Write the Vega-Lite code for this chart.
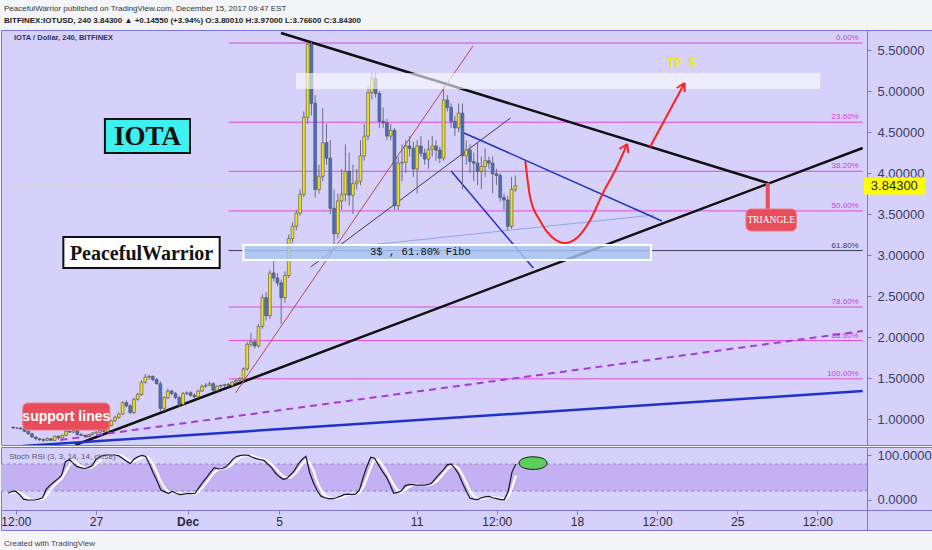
{
  "$schema": "https://vega.github.io/schema/vega-lite/v6.json",
  "background": "#f3f5f8",
  "padding": {"left": 0, "right": 0, "top": 4, "bottom": 4},
  "autosize": {"type": "pad"},
  "spacing": 0,
  "title": {
    "text": "Created with TradingView",
    "orient": "bottom", "anchor": "start", "frame": "bounds", "dx": 4, "offset": 9,
    "font": "Liberation Sans", "fontSize": 8, "fontWeight": "normal", "color": "#444444"
  },
  "config": {
    "view": {"fill": "#d5d1fa", "stroke": "#7b74da", "strokeWidth": 1},
    "axis": {"grid": false, "labelFont": "Liberation Sans", "titleFont": "Liberation Sans", "domainColor": "#7b74da", "tickColor": "#7b74da"},
    "font": "Liberation Sans"
  },
  "resolve": {"scale": {"x": "independent", "y": "independent"}},
  "datasets": {
    "bars": [
      {"t":"2017-11-23T04:00","o":0.90,"h":0.91,"l":0.88,"c":0.89,"k":15,"d":15},
      {"t":"2017-11-23T08:00","o":0.89,"h":0.90,"l":0.88,"c":0.89,"k":19,"d":17},
      {"t":"2017-11-23T12:00","o":0.89,"h":0.90,"l":0.87,"c":0.88,"k":19,"d":18},
      {"t":"2017-11-23T16:00","o":0.88,"h":0.89,"l":0.84,"c":0.85,"k":12,"d":17},
      {"t":"2017-11-23T20:00","o":0.85,"h":0.86,"l":0.81,"c":0.82,"k":2,"d":11},
      {"t":"2017-11-24T00:00","o":0.82,"h":0.83,"l":0.77,"c":0.78,"k":0,"d":5},
      {"t":"2017-11-24T04:00","o":0.78,"h":0.79,"l":0.74,"c":0.76,"k":0,"d":1},
      {"t":"2017-11-24T08:00","o":0.76,"h":0.77,"l":0.73,"c":0.75,"k":0,"d":0},
      {"t":"2017-11-24T12:00","o":0.75,"h":0.76,"l":0.72,"c":0.74,"k":2,"d":1},
      {"t":"2017-11-24T16:00","o":0.74,"h":0.78,"l":0.73,"c":0.76,"k":5,"d":2},
      {"t":"2017-11-24T20:00","o":0.76,"h":0.77,"l":0.73,"c":0.74,"k":24,"d":10},
      {"t":"2017-11-25T00:00","o":0.74,"h":0.80,"l":0.73,"c":0.79,"k":33,"d":21},
      {"t":"2017-11-25T04:00","o":0.79,"h":0.80,"l":0.75,"c":0.77,"k":40,"d":32},
      {"t":"2017-11-25T08:00","o":0.77,"h":0.81,"l":0.76,"c":0.80,"k":47,"d":40},
      {"t":"2017-11-25T12:00","o":0.80,"h":0.87,"l":0.79,"c":0.85,"k":55,"d":47},
      {"t":"2017-11-25T16:00","o":0.85,"h":0.86,"l":0.83,"c":0.84,"k":85,"d":62},
      {"t":"2017-11-25T20:00","o":0.84,"h":0.87,"l":0.83,"c":0.86,"k":90,"d":77},
      {"t":"2017-11-26T00:00","o":0.86,"h":0.86,"l":0.80,"c":0.81,"k":82,"d":86},
      {"t":"2017-11-26T04:00","o":0.81,"h":0.83,"l":0.79,"c":0.80,"k":74,"d":82},
      {"t":"2017-11-26T08:00","o":0.80,"h":0.81,"l":0.78,"c":0.79,"k":72,"d":76},
      {"t":"2017-11-26T12:00","o":0.79,"h":0.82,"l":0.78,"c":0.81,"k":70,"d":72},
      {"t":"2017-11-26T16:00","o":0.81,"h":0.84,"l":0.80,"c":0.83,"k":72,"d":71},
      {"t":"2017-11-26T20:00","o":0.83,"h":0.85,"l":0.82,"c":0.84,"k":76,"d":73},
      {"t":"2017-11-27T00:00","o":0.84,"h":0.87,"l":0.82,"c":0.86,"k":90,"d":79},
      {"t":"2017-11-27T04:00","o":0.86,"h":0.88,"l":0.84,"c":0.85,"k":96,"d":87},
      {"t":"2017-11-27T08:00","o":0.85,"h":0.93,"l":0.84,"c":0.92,"k":99,"d":95},
      {"t":"2017-11-27T12:00","o":0.92,"h":0.99,"l":0.91,"c":0.98,"k":100,"d":98},
      {"t":"2017-11-27T16:00","o":0.98,"h":1.04,"l":0.96,"c":1.02,"k":100,"d":100},
      {"t":"2017-11-27T20:00","o":1.02,"h":1.08,"l":1.00,"c":1.06,"k":100,"d":100},
      {"t":"2017-11-28T00:00","o":1.06,"h":1.22,"l":1.05,"c":1.20,"k":98,"d":99},
      {"t":"2017-11-28T04:00","o":1.20,"h":1.23,"l":1.14,"c":1.16,"k":92,"d":97},
      {"t":"2017-11-28T08:00","o":1.16,"h":1.18,"l":1.06,"c":1.08,"k":86,"d":92},
      {"t":"2017-11-28T12:00","o":1.08,"h":1.26,"l":1.06,"c":1.24,"k":81,"d":86},
      {"t":"2017-11-28T16:00","o":1.24,"h":1.32,"l":1.22,"c":1.30,"k":91,"d":86},
      {"t":"2017-11-28T20:00","o":1.30,"h":1.47,"l":1.28,"c":1.45,"k":96,"d":89},
      {"t":"2017-11-29T00:00","o":1.45,"h":1.55,"l":1.43,"c":1.51,"k":99,"d":95},
      {"t":"2017-11-29T04:00","o":1.51,"h":1.54,"l":1.48,"c":1.52,"k":97,"d":97},
      {"t":"2017-11-29T08:00","o":1.52,"h":1.53,"l":1.46,"c":1.48,"k":80,"d":92},
      {"t":"2017-11-29T12:00","o":1.48,"h":1.50,"l":1.42,"c":1.43,"k":60,"d":79},
      {"t":"2017-11-29T16:00","o":1.43,"h":1.46,"l":1.09,"c":1.13,"k":42,"d":61},
      {"t":"2017-11-29T20:00","o":1.13,"h":1.28,"l":1.10,"c":1.26,"k":22,"d":41},
      {"t":"2017-11-30T00:00","o":1.26,"h":1.37,"l":1.24,"c":1.34,"k":18,"d":27},
      {"t":"2017-11-30T04:00","o":1.34,"h":1.36,"l":1.29,"c":1.31,"k":15,"d":18},
      {"t":"2017-11-30T08:00","o":1.31,"h":1.33,"l":1.24,"c":1.26,"k":19,"d":17},
      {"t":"2017-11-30T12:00","o":1.26,"h":1.28,"l":1.15,"c":1.18,"k":15,"d":16},
      {"t":"2017-11-30T16:00","o":1.18,"h":1.33,"l":1.16,"c":1.31,"k":12,"d":15},
      {"t":"2017-11-30T20:00","o":1.31,"h":1.34,"l":1.29,"c":1.32,"k":13,"d":13},
      {"t":"2017-12-01T00:00","o":1.32,"h":1.34,"l":1.27,"c":1.29,"k":14,"d":13},
      {"t":"2017-12-01T04:00","o":1.29,"h":1.31,"l":1.25,"c":1.27,"k":14,"d":14},
      {"t":"2017-12-01T08:00","o":1.27,"h":1.36,"l":1.26,"c":1.34,"k":15,"d":14},
      {"t":"2017-12-01T12:00","o":1.34,"h":1.42,"l":1.33,"c":1.40,"k":28,"d":19},
      {"t":"2017-12-01T16:00","o":1.40,"h":1.44,"l":1.38,"c":1.41,"k":40,"d":28},
      {"t":"2017-12-01T20:00","o":1.41,"h":1.46,"l":1.40,"c":1.43,"k":50,"d":39},
      {"t":"2017-12-02T00:00","o":1.43,"h":1.45,"l":1.33,"c":1.35,"k":62,"d":51},
      {"t":"2017-12-02T04:00","o":1.35,"h":1.41,"l":1.34,"c":1.40,"k":72,"d":61},
      {"t":"2017-12-02T08:00","o":1.40,"h":1.42,"l":1.38,"c":1.41,"k":69,"d":68},
      {"t":"2017-12-02T12:00","o":1.41,"h":1.43,"l":1.39,"c":1.42,"k":70,"d":70},
      {"t":"2017-12-02T16:00","o":1.42,"h":1.44,"l":1.39,"c":1.41,"k":73,"d":71},
      {"t":"2017-12-02T20:00","o":1.41,"h":1.46,"l":1.40,"c":1.45,"k":82,"d":75},
      {"t":"2017-12-03T00:00","o":1.45,"h":1.49,"l":1.43,"c":1.47,"k":92,"d":82},
      {"t":"2017-12-03T04:00","o":1.47,"h":1.51,"l":1.45,"c":1.49,"k":97,"d":90},
      {"t":"2017-12-03T08:00","o":1.49,"h":1.63,"l":1.47,"c":1.61,"k":99,"d":96},
      {"t":"2017-12-03T12:00","o":1.61,"h":1.94,"l":1.59,"c":1.91,"k":100,"d":99},
      {"t":"2017-12-03T16:00","o":1.91,"h":2.05,"l":1.88,"c":1.94,"k":99,"d":99},
      {"t":"2017-12-03T20:00","o":1.94,"h":1.98,"l":1.86,"c":1.89,"k":95,"d":98},
      {"t":"2017-12-04T00:00","o":1.89,"h":2.16,"l":1.87,"c":2.13,"k":92,"d":95},
      {"t":"2017-12-04T04:00","o":2.13,"h":2.52,"l":2.10,"c":2.48,"k":90,"d":92},
      {"t":"2017-12-04T08:00","o":2.48,"h":2.55,"l":2.20,"c":2.26,"k":88,"d":90},
      {"t":"2017-12-04T12:00","o":2.26,"h":2.82,"l":2.22,"c":2.78,"k":80,"d":86},
      {"t":"2017-12-04T16:00","o":2.78,"h":2.95,"l":2.68,"c":2.72,"k":72,"d":80},
      {"t":"2017-12-04T20:00","o":2.72,"h":2.78,"l":2.62,"c":2.66,"k":60,"d":71},
      {"t":"2017-12-05T00:00","o":2.66,"h":2.70,"l":2.16,"c":2.48,"k":52,"d":61},
      {"t":"2017-12-05T04:00","o":2.48,"h":2.80,"l":2.42,"c":2.75,"k":46,"d":53},
      {"t":"2017-12-05T08:00","o":2.75,"h":3.25,"l":2.72,"c":3.20,"k":48,"d":49},
      {"t":"2017-12-05T12:00","o":3.20,"h":3.40,"l":3.15,"c":3.35,"k":56,"d":50},
      {"t":"2017-12-05T16:00","o":3.35,"h":3.55,"l":3.30,"c":3.51,"k":66,"d":57},
      {"t":"2017-12-05T20:00","o":3.51,"h":3.80,"l":3.48,"c":3.74,"k":80,"d":67},
      {"t":"2017-12-06T00:00","o":3.74,"h":4.75,"l":3.70,"c":4.68,"k":90,"d":79},
      {"t":"2017-12-06T04:00","o":4.68,"h":5.60,"l":4.60,"c":5.57,"k":97,"d":89},
      {"t":"2017-12-06T08:00","o":5.57,"h":5.60,"l":4.70,"c":4.85,"k":60,"d":82},
      {"t":"2017-12-06T12:00","o":4.85,"h":4.95,"l":3.70,"c":3.80,"k":38,"d":65},
      {"t":"2017-12-06T16:00","o":3.80,"h":4.10,"l":3.75,"c":3.96,"k":20,"d":39},
      {"t":"2017-12-06T20:00","o":3.96,"h":4.79,"l":3.90,"c":4.37,"k":8,"d":22},
      {"t":"2017-12-07T00:00","o":4.37,"h":4.60,"l":4.10,"c":4.18,"k":5,"d":11},
      {"t":"2017-12-07T04:00","o":4.18,"h":4.40,"l":3.50,"c":3.57,"k":3,"d":5},
      {"t":"2017-12-07T08:00","o":3.57,"h":3.80,"l":3.05,"c":3.26,"k":3,"d":4},
      {"t":"2017-12-07T12:00","o":3.26,"h":3.75,"l":3.20,"c":3.66,"k":5,"d":4},
      {"t":"2017-12-07T16:00","o":3.66,"h":4.05,"l":3.55,"c":3.74,"k":8,"d":5},
      {"t":"2017-12-07T20:00","o":3.74,"h":4.35,"l":3.65,"c":4.02,"k":12,"d":8},
      {"t":"2017-12-08T00:00","o":4.02,"h":4.25,"l":3.60,"c":3.73,"k":13,"d":11},
      {"t":"2017-12-08T04:00","o":3.73,"h":4.10,"l":3.50,"c":3.87,"k":12,"d":12},
      {"t":"2017-12-08T08:00","o":3.87,"h":4.05,"l":3.80,"c":3.90,"k":13,"d":13},
      {"t":"2017-12-08T12:00","o":3.90,"h":4.40,"l":3.85,"c":4.21,"k":22,"d":16},
      {"t":"2017-12-08T16:00","o":4.21,"h":4.60,"l":4.15,"c":4.45,"k":50,"d":28},
      {"t":"2017-12-08T20:00","o":4.45,"h":5.05,"l":4.40,"c":4.98,"k":75,"d":49},
      {"t":"2017-12-09T00:00","o":4.98,"h":5.22,"l":4.90,"c":5.15,"k":95,"d":73},
      {"t":"2017-12-09T04:00","o":5.15,"h":5.22,"l":4.92,"c":4.97,"k":93,"d":88},
      {"t":"2017-12-09T08:00","o":4.97,"h":5.00,"l":4.55,"c":4.63,"k":78,"d":89},
      {"t":"2017-12-09T12:00","o":4.63,"h":4.80,"l":4.55,"c":4.61,"k":64,"d":78},
      {"t":"2017-12-09T16:00","o":4.61,"h":4.66,"l":4.40,"c":4.45,"k":52,"d":65},
      {"t":"2017-12-09T20:00","o":4.45,"h":4.60,"l":4.40,"c":4.52,"k":35,"d":50},
      {"t":"2017-12-10T00:00","o":4.52,"h":4.55,"l":3.55,"c":3.60,"k":15,"d":34},
      {"t":"2017-12-10T04:00","o":3.60,"h":4.20,"l":3.55,"c":4.12,"k":17,"d":22},
      {"t":"2017-12-10T08:00","o":4.12,"h":4.35,"l":3.90,"c":4.13,"k":20,"d":17},
      {"t":"2017-12-10T12:00","o":4.13,"h":4.40,"l":4.00,"c":4.33,"k":32,"d":23},
      {"t":"2017-12-10T16:00","o":4.33,"h":4.45,"l":4.20,"c":4.30,"k":34,"d":29},
      {"t":"2017-12-10T20:00","o":4.30,"h":4.38,"l":3.95,"c":4.05,"k":34,"d":33},
      {"t":"2017-12-11T00:00","o":4.05,"h":4.40,"l":3.75,"c":4.33,"k":33,"d":34},
      {"t":"2017-12-11T04:00","o":4.33,"h":4.45,"l":4.20,"c":4.24,"k":33,"d":33},
      {"t":"2017-12-11T08:00","o":4.24,"h":4.30,"l":4.10,"c":4.17,"k":33,"d":33},
      {"t":"2017-12-11T12:00","o":4.17,"h":4.40,"l":4.05,"c":4.29,"k":34,"d":33},
      {"t":"2017-12-11T16:00","o":4.29,"h":4.45,"l":4.20,"c":4.33,"k":38,"d":35},
      {"t":"2017-12-11T20:00","o":4.33,"h":4.40,"l":4.15,"c":4.28,"k":48,"d":40},
      {"t":"2017-12-12T00:00","o":4.28,"h":4.32,"l":4.12,"c":4.18,"k":58,"d":48},
      {"t":"2017-12-12T04:00","o":4.18,"h":5.06,"l":4.15,"c":4.89,"k":67,"d":58},
      {"t":"2017-12-12T08:00","o":4.89,"h":4.95,"l":4.75,"c":4.80,"k":78,"d":68},
      {"t":"2017-12-12T12:00","o":4.80,"h":4.85,"l":4.55,"c":4.63,"k":80,"d":75},
      {"t":"2017-12-12T16:00","o":4.63,"h":4.70,"l":4.45,"c":4.55,"k":71,"d":76},
      {"t":"2017-12-12T20:00","o":4.55,"h":4.85,"l":4.50,"c":4.73,"k":58,"d":70},
      {"t":"2017-12-13T00:00","o":4.73,"h":4.85,"l":3.80,"c":4.21,"k":38,"d":56},
      {"t":"2017-12-13T04:00","o":4.21,"h":4.40,"l":4.10,"c":4.28,"k":20,"d":39},
      {"t":"2017-12-13T08:00","o":4.28,"h":4.35,"l":4.00,"c":4.14,"k":4,"d":21},
      {"t":"2017-12-13T12:00","o":4.14,"h":4.25,"l":3.90,"c":4.12,"k":2,"d":9},
      {"t":"2017-12-13T16:00","o":4.12,"h":4.37,"l":3.85,"c":4.02,"k":1,"d":2},
      {"t":"2017-12-13T20:00","o":4.02,"h":4.20,"l":3.80,"c":4.08,"k":5,"d":3},
      {"t":"2017-12-14T00:00","o":4.08,"h":4.30,"l":3.95,"c":4.15,"k":7,"d":4},
      {"t":"2017-12-14T04:00","o":4.15,"h":4.20,"l":4.05,"c":4.12,"k":8,"d":7},
      {"t":"2017-12-14T08:00","o":4.12,"h":4.20,"l":3.75,"c":3.99,"k":5,"d":7},
      {"t":"2017-12-14T12:00","o":3.99,"h":4.05,"l":3.85,"c":3.97,"k":3,"d":5},
      {"t":"2017-12-14T16:00","o":3.97,"h":4.00,"l":3.65,"c":3.70,"k":1,"d":3},
      {"t":"2017-12-14T20:00","o":3.70,"h":3.75,"l":3.55,"c":3.67,"k":1,"d":2},
      {"t":"2017-12-15T00:00","o":3.67,"h":3.72,"l":3.30,"c":3.35,"k":19,"d":7},
      {"t":"2017-12-15T04:00","o":3.35,"h":3.95,"l":3.32,"c":3.80,"k":62,"d":27},
      {"t":"2017-12-15T08:00","o":3.80,"h":3.97,"l":3.766,"c":3.843,"k":80,"d":54}
    ],
    "fib": [
      {"lvl":"0.00%","p":5.585},
      {"lvl":"23.60%","p":4.619},
      {"lvl":"38.20%","p":4.021},
      {"lvl":"50.00%","p":3.538},
      {"lvl":"61.80%","p":3.054},
      {"lvl":"78.60%","p":2.366},
      {"lvl":"88.60%","p":1.957},
      {"lvl":"100.00%","p":1.49}
    ],
    "lines": [
      {"kind":"resist","t1":"2017-12-04T23:47","p1":5.707,"t2":"2017-12-26T11:25","p2":3.878},
      {"kind":"support","t1":"2017-11-25T21:48","p1":0.683,"t2":"2017-12-30T16:02","p2":4.305},
      {"kind":"blueSupport","t1":"2017-11-23T14:15","p1":0.671,"t2":"2017-12-30T16:02","p2":1.341},
      {"kind":"dashed","t1":"2017-11-25T06:04","p1":0.744,"t2":"2017-12-30T16:02","p2":2.073},
      {"kind":"thinRed","t1":"2017-12-02T23:35","p1":1.317,"t2":"2017-12-13T11:07","p2":5.549},
      {"kind":"thinDark","t1":"2017-12-06T07:14","p1":2.854,"t2":"2017-12-15T02:56","p2":4.671},
      {"kind":"lightBlue","t1":"2017-12-06T19:48","p1":3.061,"t2":"2017-12-21T10:54","p2":3.488},
      {"kind":"wedgeTop","t1":"2017-12-13T01:41","p1":4.488,"t2":"2017-12-21T19:18","p2":3.415},
      {"kind":"wedgeBot","t1":"2017-12-12T12:03","p1":4.024,"t2":"2017-12-16T03:03","p2":2.841}
    ],
    "boxes": [
      {"name":"resist","t1":"2017-12-05T15:36","t2":"2017-12-28T18:58","p1":5.22,"p2":5.024},
      {"name":"fibo","t1":"2017-12-03T07:58","t2":"2017-12-21T07:45","p1":3.122,"p2":2.939},
      {"name":"iota","t1":"2017-11-27T05:14","t2":"2017-11-30T23:23","p1":4.659,"p2":4.244},
      {"name":"pw","t1":"2017-11-25T09:13","t2":"2017-12-02T06:49","p1":3.22,"p2":2.841},
      {"name":"support","t1":"2017-11-23T14:15","t2":"2017-11-27T10:29","p1":1.195,"p2":0.866},
      {"name":"triangle","t1":"2017-12-25T12:22","t2":"2017-12-27T17:48","p1":3.561,"p2":3.293}
    ],
    "labels": [
      {"name":"iota","t":"2017-11-29T02:18","p":4.45,"text":"IOTA"},
      {"name":"pw","t":"2017-11-28T20:01","p":3.03,"text":"PeacefulWarrior"},
      {"name":"support","t":"2017-11-25T12:21","p":1.03,"text":"support lines"},
      {"name":"triangle","t":"2017-12-26T15:06","p":3.427,"text":"TRIANGLE"},
      {"name":"fibo","t":"2017-12-11T03:33","p":3.037,"text":"3$ , 61.80% Fibo"},
      {"name":"tp","t":"2017-12-22T16:15","p":5.341,"text":"TP  5"},
      {"name":"pair","t":"2017-11-23T04:48","p":5.646,"text":"IOTA / Dollar, 240, BITFINEX"},
      {"name":"price","t":"2018-01-01T01:34","p":3.843,"text":"3.84300"}
    ],
    "curve": [
      {"t":"2017-12-15T18:39","p":4.146},
      {"t":"2017-12-15T23:54","p":3.695},
      {"t":"2017-12-16T10:22","p":3.415},
      {"t":"2017-12-17T00:00","p":3.207},
      {"t":"2017-12-17T12:34","p":3.146},
      {"t":"2017-12-18T01:09","p":3.207},
      {"t":"2017-12-18T14:47","p":3.415},
      {"t":"2017-12-19T04:24","p":3.744},
      {"t":"2017-12-19T19:05","p":4.061},
      {"t":"2017-12-20T06:36","p":4.354}
    ],
    "arrows": [
      {"t1":"2017-12-20T06:36","p1":4.354,"t2":"2017-12-19T22:13","p2":4.293},
      {"t1":"2017-12-20T06:36","p1":4.354,"t2":"2017-12-20T07:39","p2":4.244},
      {"t1":"2017-12-21T06:42","p1":4.317,"t2":"2017-12-22T19:23","p2":5.098},
      {"t1":"2017-12-22T19:23","p1":5.098,"t2":"2017-12-22T11:01","p2":5.037},
      {"t1":"2017-12-22T19:23","p1":5.098,"t2":"2017-12-22T19:23","p2":4.988}
    ]
  },
  "vconcat": [
    {
      "width": 932,
      "height": 415,
      "title": {
        "text": "PeacefulWarrior published on TradingView.com, December 15, 2017 09:47 EST",
        "subtitle": "BITFINEX:IOTUSD, 240  3.84300 ▲ +0.14550 (+3.94%)  O:3.80010  H:3.97000  L:3.76600  C:3.84300",
        "anchor": "start", "frame": "group", "dx": 3,
        "font": "Liberation Sans", "fontSize": 8, "fontWeight": "normal", "color": "#333333",
        "subtitleFont": "Liberation Sans", "subtitleFontSize": 8, "subtitleFontWeight": "bold", "subtitleColor": "#222222",
        "subtitlePadding": 4, "offset": 5
      },
      "layer": [
        {
          "data": {"values": [{"p": 3.843}]},
          "mark": {"type": "rule", "color": "#e4e48c", "strokeWidth": 1, "strokeDash": [2, 1]},
          "encoding": {
            "x": {"datum": {"year":2017,"month":11,"date":22,"hours":20,"minutes":27}, "type": "temporal", "scale": {"domain": [{"year":2017,"month":11,"date":22,"hours":20,"minutes":27},{"year":2018,"month":1,"date":2,"hours":13,"minutes":13}]}, "axis": null, "title": null},
            "x2": {"datum": {"year":2017,"month":12,"date":30,"hours":16,"minutes":2}},
            "y": {"field": "p", "type": "quantitative", "scale": {"domain": [0.683, 5.744], "nice": false, "zero": false}, "title": null,
                  "axis": {"orient": "right", "offset": -66, "values": [1, 1.5, 2, 2.5, 3, 3.5, 4, 4.5, 5, 5.5], "format": ".5f", "labelFontSize": 13, "labelColor": "#3c3c60", "tickSize": 4, "labelPadding": 6, "title": null, "zindex": 0}}
          }
        },
        {
          "data": {"name": "fib"},
          "mark": {"type": "rule", "strokeWidth": 1},
          "encoding": {
            "x": {"datum": {"year":2017,"month":12,"date":2,"hours":16,"minutes":15}, "type": "temporal", "axis": null, "title": null},
            "x2": {"datum": {"year":2017,"month":12,"date":30,"hours":16,"minutes":2}},
            "y": {"field": "p", "type": "quantitative", "title": null},
            "color": {"condition": {"test": "datum.lvl == '61.80%'", "value": "#3a3a50"}, "value": "#e04ae0"}
          }
        },
        {
          "data": {"name": "fib"},
          "mark": {"type": "text", "align": "right", "baseline": "bottom", "dy": -1, "fontSize": 8, "font": "Liberation Sans"},
          "encoding": {
            "x": {"datum": {"year":2017,"month":12,"date":30,"hours":11,"minutes":50}, "type": "temporal", "axis": null, "title": null},
            "y": {"field": "p", "type": "quantitative", "title": null},
            "text": {"field": "lvl"},
            "color": {"condition": {"test": "datum.lvl == '61.80%'", "value": "#3a3a50"}, "value": "#d23ed2"}
          }
        },
        {
          "data": {"name": "lines", "format": {"parse": {"t1": "date", "t2": "date"}}},
          "transform": [{"filter": "datum.kind == 'resist' || datum.kind == 'support' || datum.kind == 'blueSupport'"}],
          "mark": {"type": "rule", "clip": true, "strokeWidth": 2.5},
          "encoding": {
            "x": {"field": "t1", "type": "temporal", "axis": null, "title": null},
            "x2": {"field": "t2"},
            "y": {"field": "p1", "type": "quantitative", "title": null},
            "y2": {"field": "p2"},
            "color": {"condition": {"test": "datum.kind == 'blueSupport'", "value": "#1f33c9"}, "value": "#111111"}
          }
        },
        {
          "data": {"name": "lines", "format": {"parse": {"t1": "date", "t2": "date"}}},
          "transform": [{"filter": "datum.kind == 'dashed'"}],
          "mark": {"type": "rule", "clip": true, "strokeWidth": 2, "strokeDash": [7, 5], "color": "#a63ad6"},
          "encoding": {
            "x": {"field": "t1", "type": "temporal", "axis": null, "title": null},
            "x2": {"field": "t2"},
            "y": {"field": "p1", "type": "quantitative", "title": null},
            "y2": {"field": "p2"}
          }
        },
        {
          "data": {"name": "lines", "format": {"parse": {"t1": "date", "t2": "date"}}},
          "transform": [{"filter": "datum.kind == 'thinRed' || datum.kind == 'thinDark' || datum.kind == 'lightBlue'"}],
          "mark": {"type": "rule", "clip": true, "strokeWidth": 1},
          "encoding": {
            "x": {"field": "t1", "type": "temporal", "axis": null, "title": null},
            "x2": {"field": "t2"},
            "y": {"field": "p1", "type": "quantitative", "title": null},
            "y2": {"field": "p2"},
            "color": {"field": "kind", "type": "nominal", "legend": null,
                      "scale": {"domain": ["thinRed", "thinDark", "lightBlue"], "range": ["#b8405e", "#3a3a55", "#8ea6ea"]}}
          }
        },
        {
          "data": {"name": "lines", "format": {"parse": {"t1": "date", "t2": "date"}}},
          "transform": [{"filter": "datum.kind == 'wedgeTop' || datum.kind == 'wedgeBot'"}],
          "mark": {"type": "rule", "clip": true, "strokeWidth": 1.5, "color": "#2233c0"},
          "encoding": {
            "x": {"field": "t1", "type": "temporal", "axis": null, "title": null},
            "x2": {"field": "t2"},
            "y": {"field": "p1", "type": "quantitative", "title": null},
            "y2": {"field": "p2"}
          }
        },
        {
          "data": {"name": "bars"},
          "mark": {"type": "rule", "color": "#6d6d85", "strokeWidth": 1},
          "encoding": {
            "x": {"field": "t", "type": "temporal", "axis": null, "title": null},
            "y": {"field": "l", "type": "quantitative", "title": null},
            "y2": {"field": "h"}
          }
        },
        {
          "data": {"name": "bars"},
          "mark": {"type": "bar", "width": 2.8, "stroke": "#4a4a4a", "strokeWidth": 0.6},
          "encoding": {
            "x": {"field": "t", "type": "temporal", "axis": null, "title": null},
            "y": {"field": "o", "type": "quantitative", "title": null},
            "y2": {"field": "c"},
            "color": {"condition": {"test": "datum.c >= datum.o", "value": "#f2e414"}, "value": "#4a70c2"}
          }
        },
        {
          "data": {"name": "boxes", "format": {"parse": {"t1": "date", "t2": "date"}}},
          "transform": [{"filter": "datum.name == 'resist'"}],
          "mark": {"type": "rect", "fill": "#ffffff", "opacity": 0.6},
          "encoding": {
            "x": {"field": "t1", "type": "temporal", "axis": null, "title": null},
            "x2": {"field": "t2"},
            "y": {"field": "p1", "type": "quantitative", "title": null},
            "y2": {"field": "p2"}
          }
        },
        {
          "data": {"name": "boxes", "format": {"parse": {"t1": "date", "t2": "date"}}},
          "transform": [{"filter": "datum.name == 'fibo'"}],
          "mark": {"type": "rect", "fill": "#a9c5f2", "fillOpacity": 0.8, "stroke": "#ffffff", "strokeWidth": 2},
          "encoding": {
            "x": {"field": "t1", "type": "temporal", "axis": null, "title": null},
            "x2": {"field": "t2"},
            "y": {"field": "p1", "type": "quantitative", "title": null},
            "y2": {"field": "p2"}
          }
        },
        {
          "data": {"name": "curve"},
          "mark": {"type": "line", "color": "#ff1f1f", "strokeWidth": 2, "interpolate": "monotone"},
          "encoding": {
            "x": {"field": "t", "type": "temporal", "axis": null, "title": null},
            "y": {"field": "p", "type": "quantitative", "title": null}
          }
        },
        {
          "data": {"name": "arrows", "format": {"parse": {"t1": "date", "t2": "date"}}},
          "mark": {"type": "rule", "color": "#ff1f1f", "strokeWidth": 2},
          "encoding": {
            "x": {"field": "t1", "type": "temporal", "axis": null, "title": null},
            "x2": {"field": "t2"},
            "y": {"field": "p1", "type": "quantitative", "title": null},
            "y2": {"field": "p2"}
          }
        },
        {
          "data": {"name": "boxes", "format": {"parse": {"t1": "date", "t2": "date"}}},
          "transform": [{"filter": "datum.name == 'iota'"}],
          "mark": {"type": "rect", "fill": "#3ef0f0", "stroke": "#111111", "strokeWidth": 2},
          "encoding": {
            "x": {"field": "t1", "type": "temporal", "axis": null, "title": null},
            "x2": {"field": "t2"},
            "y": {"field": "p1", "type": "quantitative", "title": null},
            "y2": {"field": "p2"}
          }
        },
        {
          "data": {"name": "boxes", "format": {"parse": {"t1": "date", "t2": "date"}}},
          "transform": [{"filter": "datum.name == 'pw'"}],
          "mark": {"type": "rect", "fill": "#ffffff", "stroke": "#111111", "strokeWidth": 2},
          "encoding": {
            "x": {"field": "t1", "type": "temporal", "axis": null, "title": null},
            "x2": {"field": "t2"},
            "y": {"field": "p1", "type": "quantitative", "title": null},
            "y2": {"field": "p2"}
          }
        },
        {
          "data": {"values": [{"t": "2017-12-26T11:25", "p1": 3.878, "p2": 3.561}]},
          "mark": {"type": "rule", "color": "#e84d5b", "strokeWidth": 4},
          "encoding": {
            "x": {"field": "t", "type": "temporal", "axis": null, "title": null},
            "y": {"field": "p1", "type": "quantitative", "title": null},
            "y2": {"field": "p2"}
          }
        },
        {
          "data": {"name": "boxes", "format": {"parse": {"t1": "date", "t2": "date"}}},
          "transform": [{"filter": "datum.name == 'support' || datum.name == 'triangle'"}],
          "mark": {"type": "rect", "fill": "#e84d5b", "stroke": "#f07a85", "strokeWidth": 1, "cornerRadius": 5},
          "encoding": {
            "x": {"field": "t1", "type": "temporal", "axis": null, "title": null},
            "x2": {"field": "t2"},
            "y": {"field": "p1", "type": "quantitative", "title": null},
            "y2": {"field": "p2"}
          }
        },
        {
          "data": {"name": "labels"},
          "transform": [{"filter": "datum.name == 'price'"}],
          "mark": {"type": "tick", "orient": "horizontal", "size": 61, "thickness": 17, "color": "#ffff00", "opacity": 1},
          "encoding": {
            "x": {"field": "t", "type": "temporal", "axis": null, "title": null},
            "y": {"field": "p", "type": "quantitative", "title": null}
          }
        },
        {
          "data": {"name": "labels"},
          "transform": [{"filter": "datum.name == 'price'"}],
          "mark": {"type": "text", "font": "Liberation Sans", "fontSize": 13, "color": "#222222", "align": "center", "baseline": "middle"},
          "encoding": {
            "x": {"field": "t", "type": "temporal", "axis": null, "title": null},
            "y": {"field": "p", "type": "quantitative", "title": null},
            "text": {"field": "text"}
          }
        },
        {
          "data": {"name": "labels"},
          "transform": [{"filter": "datum.name == 'iota'"}],
          "mark": {"type": "text", "font": "Liberation Serif", "fontWeight": "bold", "fontSize": 27, "color": "#111111", "align": "center", "baseline": "middle", "dy": 1},
          "encoding": {
            "x": {"field": "t", "type": "temporal", "axis": null, "title": null},
            "y": {"field": "p", "type": "quantitative", "title": null},
            "text": {"field": "text"}
          }
        },
        {
          "data": {"name": "labels"},
          "transform": [{"filter": "datum.name == 'pw'"}],
          "mark": {"type": "text", "font": "Liberation Serif", "fontWeight": "bold", "fontSize": 20, "color": "#111111", "align": "center", "baseline": "middle", "dy": 1},
          "encoding": {
            "x": {"field": "t", "type": "temporal", "axis": null, "title": null},
            "y": {"field": "p", "type": "quantitative", "title": null},
            "text": {"field": "text"}
          }
        },
        {
          "data": {"name": "labels"},
          "transform": [{"filter": "datum.name == 'support'"}],
          "mark": {"type": "text", "font": "Liberation Sans", "fontWeight": "bold", "fontSize": 14, "color": "#ffffff", "align": "center", "baseline": "middle"},
          "encoding": {
            "x": {"field": "t", "type": "temporal", "axis": null, "title": null},
            "y": {"field": "p", "type": "quantitative", "title": null},
            "text": {"field": "text"}
          }
        },
        {
          "data": {"name": "labels"},
          "transform": [{"filter": "datum.name == 'triangle'"}],
          "mark": {"type": "text", "font": "Liberation Serif", "fontSize": 9.5, "color": "#ffffff", "align": "center", "baseline": "middle"},
          "encoding": {
            "x": {"field": "t", "type": "temporal", "axis": null, "title": null},
            "y": {"field": "p", "type": "quantitative", "title": null},
            "text": {"field": "text"}
          }
        },
        {
          "data": {"name": "labels"},
          "transform": [{"filter": "datum.name == 'fibo'"}],
          "mark": {"type": "text", "font": "Liberation Mono", "fontSize": 10.5, "color": "#111111", "align": "center", "baseline": "middle"},
          "encoding": {
            "x": {"field": "t", "type": "temporal", "axis": null, "title": null},
            "y": {"field": "p", "type": "quantitative", "title": null},
            "text": {"field": "text"}
          }
        },
        {
          "data": {"name": "labels"},
          "transform": [{"filter": "datum.name == 'tp'"}],
          "mark": {"type": "text", "font": "Liberation Mono", "fontWeight": "bold", "fontSize": 12, "color": "#eeee00", "align": "center", "baseline": "middle"},
          "encoding": {
            "x": {"field": "t", "type": "temporal", "axis": null, "title": null},
            "y": {"field": "p", "type": "quantitative", "title": null},
            "text": {"field": "text"}
          }
        },
        {
          "data": {"name": "labels"},
          "transform": [{"filter": "datum.name == 'pair'"}],
          "mark": {"type": "text", "font": "Liberation Sans", "fontWeight": "bold", "fontSize": 7.5, "color": "#33335a", "align": "left", "baseline": "middle"},
          "encoding": {
            "x": {"field": "t", "type": "temporal", "axis": null, "title": null},
            "y": {"field": "p", "type": "quantitative", "title": null},
            "text": {"field": "text"}
          }
        }
      ]
    },
    {
      "width": 932,
      "height": 83,
      "layer": [
        {
          "data": {"values": [{"lo": 20, "hi": 80}]},
          "mark": {"type": "rect", "fill": "#c4b1f3"},
          "encoding": {
            "x": {"datum": {"year":2017,"month":11,"date":22,"hours":20,"minutes":27}, "type": "temporal",
                  "scale": {"domain": [{"year":2017,"month":11,"date":22,"hours":20,"minutes":27},{"year":2018,"month":1,"date":2,"hours":13,"minutes":13}]},
                  "title": null,
                  "axis": {"orient": "bottom", "offset": -20,
                           "values": [
                             {"year":2017,"month":11,"date":23,"hours":12},
                             {"year":2017,"month":11,"date":27},
                             {"year":2017,"month":12,"date":1},
                             {"year":2017,"month":12,"date":5},
                             {"year":2017,"month":12,"date":11},
                             {"year":2017,"month":12,"date":14,"hours":12},
                             {"year":2017,"month":12,"date":18},
                             {"year":2017,"month":12,"date":21,"hours":12},
                             {"year":2017,"month":12,"date":25},
                             {"year":2017,"month":12,"date":28,"hours":12}
                           ],
                           "labelExpr": "hours(datum.value) == 12 ? '12:00' : (date(datum.value) == 1 ? 'Dec' : '' + date(datum.value))",
                           "labelFontWeight": {"condition": {"test": "date(datum.value) == 1 && hours(datum.value) == 0", "value": "bold"}, "value": "normal"},
                           "labelFontSize": 12, "labelColor": "#2a2a44", "tickSize": 4, "labelPadding": 2,
                           "labelFlush": false, "labelOverlap": false, "title": null, "zindex": 0}},
            "x2": {"datum": {"year":2017,"month":12,"date":30,"hours":16,"minutes":2}},
            "y": {"field": "lo", "type": "quantitative", "scale": {"domain": [-66.7, 117.8], "nice": false, "zero": false}, "title": null,
                  "axis": {"orient": "right", "offset": -66, "values": [0, 100], "format": ".4f", "labelFontSize": 13, "labelColor": "#3c3c60", "tickSize": 4, "labelPadding": 6, "title": null, "zindex": 0}},
            "y2": {"field": "hi"}
          }
        },
        {
          "data": {"values": [{"v": 20}, {"v": 80}]},
          "mark": {"type": "rule", "color": "#8a86a8", "strokeWidth": 1, "strokeDash": [3, 3]},
          "encoding": {
            "x": {"datum": {"year":2017,"month":11,"date":22,"hours":20,"minutes":27}, "type": "temporal", "title": null},
            "x2": {"datum": {"year":2017,"month":12,"date":30,"hours":16,"minutes":2}},
            "y": {"field": "v", "type": "quantitative", "title": null}
          }
        },
        {
          "data": {"name": "bars"},
          "mark": {"type": "line", "color": "#ffffff", "strokeWidth": 2.2},
          "encoding": {
            "x": {"field": "t", "type": "temporal", "title": null},
            "y": {"field": "d", "type": "quantitative", "title": null}
          }
        },
        {
          "data": {"name": "bars"},
          "mark": {"type": "line", "color": "#15152a", "strokeWidth": 1.2},
          "encoding": {
            "x": {"field": "t", "type": "temporal", "title": null},
            "y": {"field": "k", "type": "quantitative", "title": null}
          }
        },
        {
          "data": {"values": [{"t": "2017-12-16T02:00", "v": 82}]},
          "mark": {"type": "point", "shape": "M-1,0C-1,-0.6,1,-0.6,1,0C1,0.6,-1,0.6,-1,0Z", "size": 784, "filled": true, "fill": "#5ad05a", "stroke": "#1a1a1a", "strokeWidth": 1, "opacity": 1},
          "encoding": {
            "x": {"field": "t", "type": "temporal", "title": null},
            "y": {"field": "v", "type": "quantitative", "title": null}
          }
        },
        {
          "data": {"values": [{"t": "2017-11-23T04:48", "v": 95.6}]},
          "mark": {"type": "text", "text": "Stoch RSI (3, 3, 14, 14, close)", "font": "Liberation Sans", "fontSize": 8, "color": "#55557a", "align": "left", "baseline": "middle"},
          "encoding": {
            "x": {"field": "t", "type": "temporal", "title": null},
            "y": {"field": "v", "type": "quantitative", "title": null}
          }
        }
      ]
    }
  ]
}
